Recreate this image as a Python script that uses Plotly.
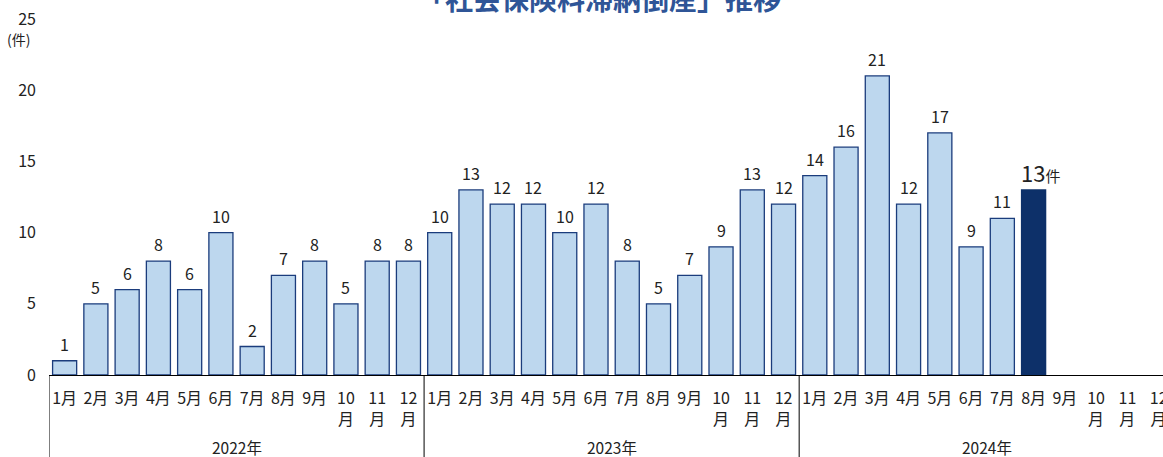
import plotly.graph_objects as go

years = ["2022年", "2023年", "2024年"]
months = ["1月", "2月", "3月", "4月", "5月", "6月", "7月", "8月", "9月", "10<br>月", "11<br>月", "12<br>月"]
values_2022 = [1, 5, 6, 8, 6, 10, 2, 7, 8, 5, 8, 8]
values_2023 = [10, 13, 12, 12, 10, 12, 8, 5, 7, 9, 13, 12]
values_2024 = [14, 16, 21, 12, 17, 9, 11, 13]
highlight_label_unit = "件"
y_ticks = [0, 5, 10, 15, 20, 25]

FONT = "Noto Sans CJK JP"
LIGHT = "#BDD7EE"
DARK = "#0D3069"
EDGE = "#1B3C7C"

all_values = values_2022 + values_2023 + values_2024 + [None] * (12 - len(values_2024))
n = len(all_values)
xcats = list(range(n))
ticktext = months * len(years)

last_idx = len(values_2022) + len(values_2023) + len(values_2024) - 1
colors = [DARK if i == last_idx else LIGHT for i in range(n)]
edges = [DARK if i == last_idx else EDGE for i in range(n)]

fig = go.Figure()
fig.add_trace(go.Bar(
    x=xcats, y=all_values,
    marker=dict(color=colors, line=dict(color=edges, width=1.3)),
    hoverinfo="skip", showlegend=False,
))

annotations = []
for i, v in enumerate(all_values):
    if v is None:
        continue
    if i == last_idx:
        txt = f"<span style='font-size:22px'>{v}</span><span style='font-size:15px'>{highlight_label_unit}</span>"
        annotations.append(dict(x=i, y=v, xref="x", yref="y", text=txt, showarrow=False,
                                yanchor="bottom", yshift=0, xshift=7,
                                font=dict(family=FONT, size=22, color="#222")))
    else:
        annotations.append(dict(x=i, y=v, xref="x", yref="y", text=str(v), showarrow=False,
                                yanchor="bottom", yshift=3,
                                font=dict(family=FONT, size=16, color="#222")))

# year labels
for k, yr in enumerate(years):
    annotations.append(dict(x=k * 12 + 5.5, y=-0.202, xref="x", yref="paper", text=yr,
                            showarrow=False, yanchor="middle",
                            font=dict(family=FONT, size=15.5, color="#222")))

annotations.append(dict(x=-0.027, y=0.945, xref="paper", yref="paper", xanchor="center",
                        yanchor="middle", text="(件)", showarrow=False,
                        font=dict(family=FONT, size=14, color="#222")))

shapes = []
for k in range(len(years) + 1):
    shapes.append(dict(type="line", xref="x", yref="paper", x0=k * 12 - 0.5, x1=k * 12 - 0.5,
                       y0=0, y1=-0.35, line=dict(color="black", width=1)))

fig.update_layout(
    width=1163, height=457,
    margin=dict(l=49, r=0, t=19, b=82, autoexpand=False),
    paper_bgcolor="white", plot_bgcolor="white",
    bargap=0.23,
    title=dict(text="「社会保険料滞納倒産」推移", x=0.515, xanchor="center",
               y=1.0, yref="container", yanchor="middle",
               font=dict(family=FONT, size=28, color="#2F5597", weight="bold")),
    xaxis=dict(range=[-0.5, 35.14], tickmode="array", tickvals=xcats, ticktext=ticktext,
               showline=True, linecolor="black", linewidth=1, showgrid=False, zeroline=False,
               ticks="", ticklabelstandoff=9, ticklabeloverflow="allow", automargin=False,
               tickfont=dict(family=FONT, size=16, color="#222")),
    yaxis=dict(range=[0, 25], tickvals=y_ticks, showgrid=False, zeroline=False, showline=False,
               ticks="", ticklabelstandoff=12, automargin=False,
               tickfont=dict(family=FONT, size=16, color="#222")),
    annotations=annotations,
    shapes=shapes,
)

fig.write_html("out.html")
